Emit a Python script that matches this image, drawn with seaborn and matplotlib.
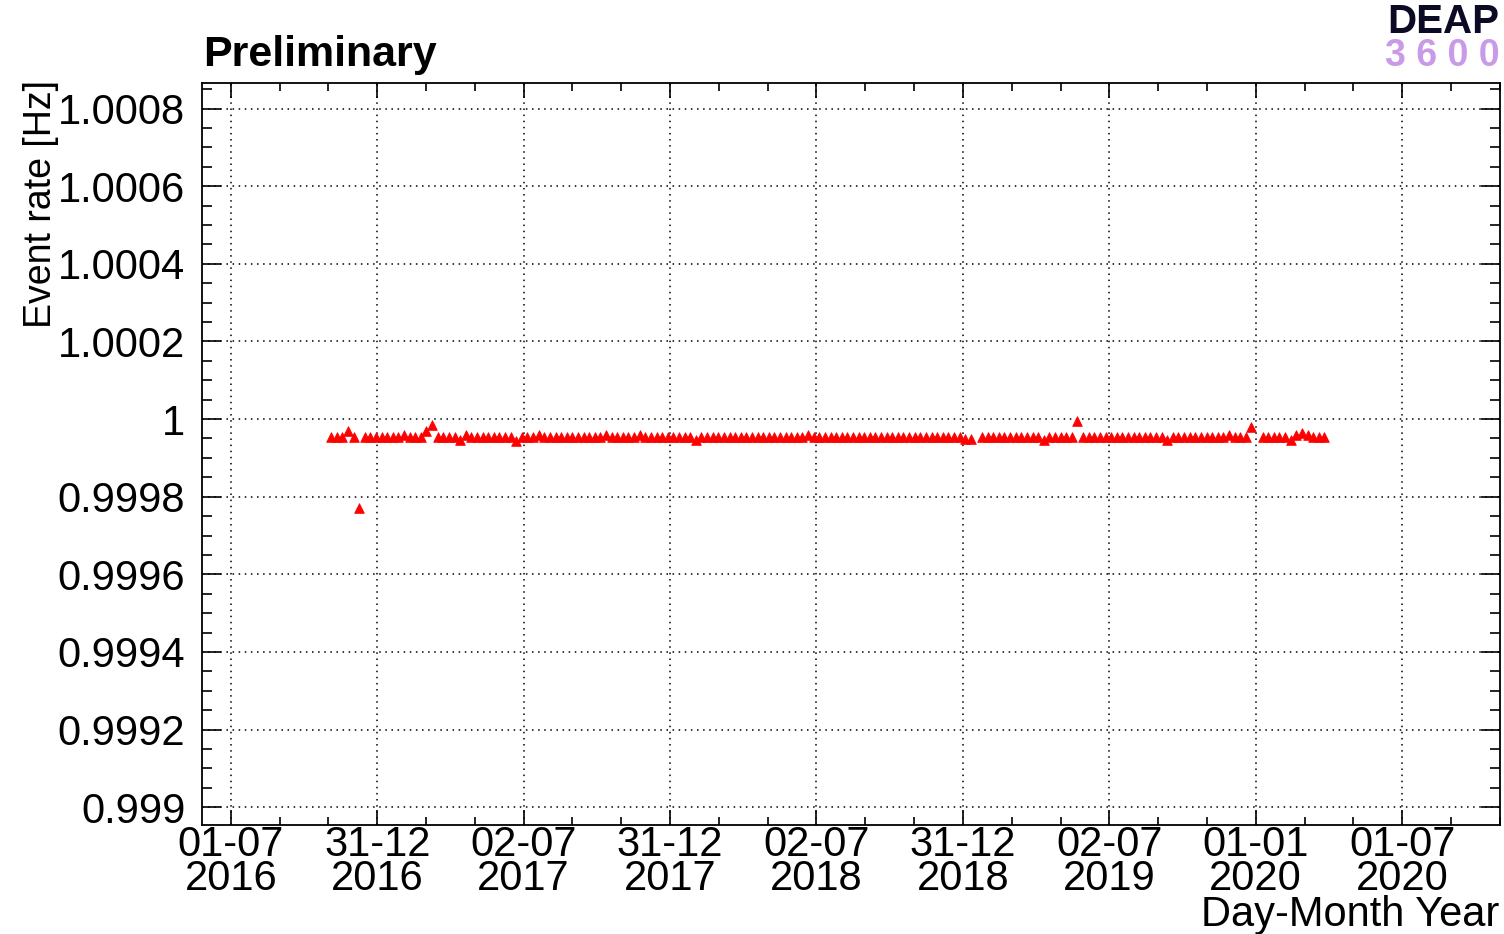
import numpy as np
import pandas as pd
import matplotlib
matplotlib.use("Agg")
import matplotlib.pyplot as plt
import matplotlib.dates as mdates
import seaborn as sns

# weekly run periods, first one early Nov 2016
dates = pd.date_range("2016-11-03", periods=178, freq="7D")

# event rate [Hz] (nan = no point)
rates = [
    0.999954, 0.999954, 0.999954, 0.99997, 0.999954, 0.99977, 0.999954, 0.999954, 0.999954, 0.999954,
    0.999954, 0.999954, 0.999954, 0.99996, 0.999954, 0.999954, 0.999954, 0.99997, 0.999985, 0.999954,
    0.999954, 0.999954, 0.999954, 0.999946, 0.99996, 0.999954, 0.999954, 0.999954, 0.999954, 0.999954,
    0.999954, 0.999954, 0.999954, 0.999943, 0.999954, 0.999954, 0.999954, 0.99996, 0.999954, 0.999954,
    0.999954, 0.999954, 0.999954, 0.999954, 0.999954, 0.999954, 0.999954, 0.999954, 0.999954, 0.99996,
    0.999954, 0.999954, 0.999954, 0.999954, 0.999954, 0.99996, 0.999954, 0.999954, 0.999954, 0.999954,
    0.999954, 0.999954, 0.999954, 0.999954, 0.999954, 0.999946, 0.999954, 0.999954, 0.999954, 0.999954,
    0.999954, 0.999954, 0.999954, 0.999954, 0.999954, 0.999954, 0.999954, 0.999954, 0.999954, 0.999954,
    0.999954, 0.999954, 0.999954, 0.999954, 0.999954, 0.99996, 0.999954, 0.999954, 0.999954, 0.999954,
    0.999954, 0.999954, 0.999954, 0.999954, 0.999954, 0.999954, 0.999954, 0.999954, 0.999954, 0.999954,
    0.999954, 0.999954, 0.999954, 0.999954, 0.999954, 0.999954, 0.999954, 0.999954, 0.999954, 0.999954,
    0.999954, 0.999954, 0.999954, 0.999948, 0.999948, np.nan, 0.999954, 0.999954, 0.999954, 0.999954,
    0.999954, 0.999954, 0.999954, 0.999954, 0.999954, 0.999954, 0.999954, 0.999946, 0.999954, 0.999954,
    0.999954, 0.999954, 0.999954, 0.999995, 0.999954, 0.999954, 0.999954, 0.999954, 0.999954, 0.999954,
    0.999954, 0.999954, 0.999954, 0.999954, 0.999954, 0.999954, 0.999954, 0.999954, 0.999954, 0.999946,
    0.999954, 0.999954, 0.999954, 0.999954, 0.999954, 0.999954, 0.999954, 0.999954, 0.999954, 0.999954,
    0.99996, 0.999954, 0.999954, 0.999954, 0.99998, np.nan, 0.999954, 0.999954, 0.999954, 0.999954,
    0.999954, 0.999946, 0.99996, 0.999965, 0.99996, 0.999954, 0.999954, 0.999954,
]

xtick_labels = ["01-07\n2016", "31-12\n2016", "02-07\n2017", "31-12\n2017", "02-07\n2018",
                "31-12\n2018", "02-07\n2019", "01-01\n2020", "01-07\n2020"]
ytick_values = [0.999, 0.9992, 0.9994, 0.9996, 0.9998, 1.0, 1.0002, 1.0004, 1.0006, 1.0008]
ytick_labels = ["0.999", "0.9992", "0.9994", "0.9996", "0.9998", "1",
                "1.0002", "1.0004", "1.0006", "1.0008"]

sns.set_style("ticks")
plt.rcParams["font.family"] = ["Liberation Sans", "DejaVu Sans"]
plt.rcParams["text.color"] = "black"
plt.rcParams["axes.labelcolor"] = "black"
plt.rcParams["xtick.color"] = "black"
plt.rcParams["ytick.color"] = "black"

fig = plt.figure(figsize=(15.04, 9.34), dpi=100)
ax = fig.add_axes([0.1343, 0.1167, 0.8630, 0.7944])

df = pd.DataFrame({"date": dates, "rate": rates}).dropna()
sns.scatterplot(data=df, x="date", y="rate", marker="^", s=48, color="#ff0000",
                edgecolor="#ff0000", linewidth=0.6, ax=ax, zorder=3)

# ROOT style time axis: half-year divisions, 3 sub divisions
t0 = mdates.date2num(pd.Timestamp("2016-07-01"))
step = 182.625
ax.set_xticks(t0 + step * np.arange(len(xtick_labels)))
ax.set_xticklabels(xtick_labels, fontsize=30, linespacing=0.82)
ax.set_xticks(t0 + step / 3 * np.arange(-1, 30), minor=True)
ax.set_xlim(mdates.date2num(pd.Timestamp("2016-05-26")),
            mdates.date2num(pd.Timestamp("2020-10-31")))

ax.set_yticks(ytick_values)
ax.set_yticklabels(ytick_labels, fontsize=30)
ax.set_yticks(np.arange(0.99895, 1.00087, 0.00005), minor=True)
ax.set_ylim(0.998954, 1.000866)

ax.grid(True, which="major", color="black", linestyle=(0, (1, 3)), linewidth=1.1)
ax.set_axisbelow(True)

ax.tick_params(axis="both", which="both", direction="in", top=True, right=True,
               color="black", width=1.2)
ax.tick_params(axis="x", which="major", length=11, pad=0)
ax.tick_params(axis="x", which="minor", length=5.5)
ax.tick_params(axis="y", which="major", length=14, pad=12)
ax.tick_params(axis="y", which="minor", length=7.5)
for s in ax.spines.values():
    s.set_linewidth(1.3)
    s.set_color("black")

ax.set_xlabel("")
ax.set_ylabel("Event rate [Hz]", fontsize=27, loc="top")
ax.yaxis.set_label_coords(-0.11, 1.004)

fig.text(0.997, -0.001, "Day-Month Year", fontsize=30, ha="right", va="bottom")
fig.text(0.135, 0.929, "Preliminary", fontsize=31, fontweight="bold", va="baseline")
fig.text(0.997, 0.965, "DEAP", fontsize=29, fontweight="bold", color="#0b0b26",
         ha="right", va="baseline")
fig.text(0.997, 0.929, "3 6 0 0", fontsize=27, fontweight="bold", color="#c99ae8",
         ha="right", va="baseline")

fig.savefig("out.png", dpi=100)
